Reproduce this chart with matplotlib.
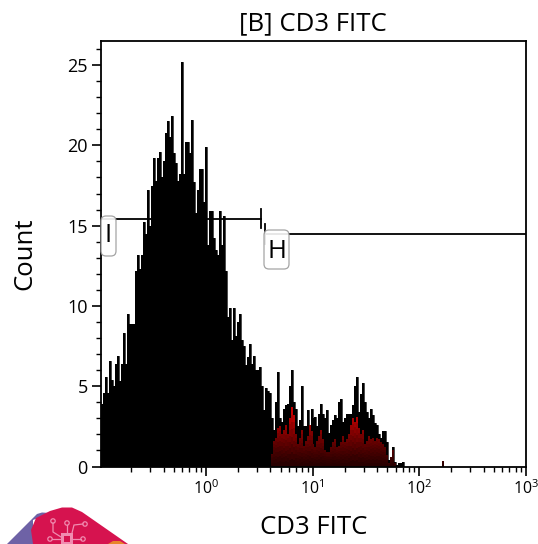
import numpy as np
import matplotlib
matplotlib.use("Agg")
import matplotlib.pyplot as plt
from matplotlib.patches import FancyBboxPatch, Polygon, Circle
from matplotlib.lines import Line2D
from matplotlib.ticker import FixedLocator, FixedFormatter, NullFormatter

plt.rcParams['font.family'] = ['Open Sans', 'DejaVu Sans']
plt.rcParams['mathtext.fontset'] = 'custom'
plt.rcParams['mathtext.rm'] = 'Open Sans'

W, H = 538, 544
title = "[B] CD3 FITC"
xlabel = "CD3 FITC"
ylabel = "Count"
y_major = [0, 5, 10, 15, 20, 25]
x_major = [1, 10, 100, 1000]
x_labels = ["$\\mathrm{10^{0}}$", "$\\mathrm{10^{1}}$", "$\\mathrm{10^{2}}$", "$\\mathrm{10^{3}}$"]

# all events: counts per histogram channel, low to high intensity
all_counts = [
3.9,4.6,5.6,4.6,6.6,5.4,5.0,6.4,6.9,5.3,6.4,8.3,6.4,9.5,8.9,8.9,8.9,12.2,13.2,12.3,
13.2,15.2,14.5,17.2,15.0,17.5,19.2,17.8,19.2,19.6,18.0,19.0,20.8,21.5,20.5,21.8,19.5,18.9,17.8,18.2,
25.2,18.2,20.2,20.2,19.5,21.6,17.7,15.8,17.2,18.5,18.5,16.5,19.9,13.8,15.9,15.9,14.2,13.5,13.2,15.9,
13.8,15.6,12.2,9.3,9.9,7.9,9.9,8.1,9.0,9.5,7.9,7.5,6.3,6.8,7.6,6.4,6.9,6.0,6.0,6.2,
5.0,3.5,4.9,4.7,4.6,3.0,2.3,4.0,5.9,3.0,2.8,3.6,3.8,3.9,5.0,6.0,4.0,3.6,2.5,2.9,
5.0,2.5,2.5,3.5,2.6,3.6,3.0,3.1,2.5,3.3,3.9,3.3,3.0,3.5,2.1,2.6,2.9,3.2,3.0,4.0,
4.2,2.8,3.0,3.3,3.3,3.3,3.8,5.0,5.6,3.4,4.5,5.2,4.0,3.4,3.0,3.6,3.2,2.7,2.6,2.0,
1.8,2.2,2.2,1.5,0.4,0.6,1.2,0.3,0.1,0.2,0.2,0.3]

# gated (H) events: channels continue from channel index 85
gated_start = 85
gated_counts = [
0.8,1.6,1.8,2.4,2.5,2.0,2.3,2.6,2.0,3.0,3.7,3.2,2.0,1.4,1.8,2.3,1.3,1.6,1.9,2.6,
2.2,1.4,1.2,1.6,1.9,2.3,1.7,1.0,0.9,0.9,1.2,1.5,1.7,1.2,1.3,1.5,1.9,1.5,1.7,2.0,
2.6,3.0,2.8,3.1,2.4,2.0,2.3,1.4,1.6,1.9,1.7,1.8,1.6,1.8,1.7,1.5,1.4,1.2,0.7,0.2,
0.6,1.0,0.2]
gated_spike_channel = [171]
gated_spike_count = [0.35]

gate_I = (0.104, 3.28, 15.43)
gate_H = (3.6, 1000, 14.48)

ax_l, ax_r, ax_t, ax_b = 101, 526, 41, 466.5
fig = plt.figure(figsize=(W/100, H/100), dpi=100)
ax = fig.add_axes([ax_l/W, 1-ax_b/H, (ax_r-ax_l)/W, (ax_b-ax_t)/H])

log_left, log_right = -0.984, 3.0
n_channels = 213
edges = np.logspace(log_left, log_right, n_channels + 1)

ax.set_xscale('log')
ax.set_xlim(10**log_left, 10**log_right)
ax.set_ylim(0, 26.5)

n = len(all_counts)
ax.stairs(all_counts, edges[:n+1], fill=True, color='black', lw=0, zorder=2)
ax.stairs(all_counts, edges[:n+1], fill=False, color='black', lw=0.5, zorder=2)

g = np.zeros(n_channels)
g[gated_start:gated_start+len(gated_counts)] = gated_counts
g[gated_spike_channel] = gated_spike_count
# each gated column is shaded from dark at the base to brighter at its top
segments = 8
for i in np.where(g > 0)[0]:
    v = g[i]
    t = min(1, v/3.5)
    top_red = 0.22 + 0.62*t**1.5
    for s in range(segments):
        f = (s + 0.5)/segments
        red = 0.15 + (top_red - 0.15)*f**1.3
        ax.bar(edges[i], v/segments, bottom=v*s/segments, width=edges[i+1]-edges[i], align='edge',
               color=(red, 0, 0), lw=0, zorder=3)

# gates
ax.plot([gate_I[0], gate_I[1]], [gate_I[2]]*2, color='black', lw=1.3, zorder=5)
ax.plot([gate_I[1]]*2, [gate_I[2]-0.6, gate_I[2]+0.6], color='black', lw=1.3, zorder=5)
ax.plot([gate_H[0], gate_H[1]], [gate_H[2]]*2, color='black', lw=1.3, zorder=5)
ax.plot([gate_H[0]]*2, [gate_H[2]-0.6, gate_H[2]+0.6], color='black', lw=1.3, zorder=5)

# axes
for s in ax.spines.values():
    s.set_linewidth(1.3)
    s.set_zorder(6)
ax.yaxis.set_major_locator(FixedLocator(y_major))
ax.yaxis.set_minor_locator(FixedLocator([v for v in range(0, 27) if v % 5]))
ax.xaxis.set_major_locator(FixedLocator(x_major))
ax.xaxis.set_major_formatter(FixedFormatter(x_labels))
minors = [m*10.0**d for d in (-1, 0, 1, 2) for m in range(2, 10) if 10.0**log_left <= m*10.0**d]
ax.xaxis.set_minor_locator(FixedLocator(minors))
ax.xaxis.set_minor_formatter(NullFormatter())
ax.tick_params(axis='both', which='major', length=6.5, width=1.2, pad=3)
ax.tick_params(axis='y', which='major', labelsize=13)
ax.tick_params(axis='x', which='major', labelsize=11.5)
ax.tick_params(axis='both', which='minor', length=3.5, width=1.0)

fig.text(313/W, 1-24/H, title, ha='center', va='center', fontsize=18.5)
fig.text(314/W, 1-528/H, xlabel, ha='center', va='center', fontsize=18.5)
fig.text(25/W, 1-254/H, ylabel, ha='center', va='center', rotation=90, fontsize=18.5)

# gate labels
def box(x0, y0, x1, y1):
    p = FancyBboxPatch((x0+4, H-y1+4), x1-x0-8, y1-y0-8, boxstyle="round,pad=4,rounding_size=5",
                       transform=None, fc='white', ec='#9a9a9a', lw=0.9, alpha=0.9, zorder=8)
    fig.add_artist(p)
box(101, 216, 116, 256)
box(264, 230, 289, 269)
fig.text(108/W, 1-236/H, "I", ha='center', va='center', fontsize=18.5, zorder=9)
fig.text(276.5/W, 1-251/H, "H", ha='center', va='center', fontsize=18.5, zorder=9)

# logo decoration, cut by the bottom of the figure
def poly(pts, col):
    a = [(x, H-y) for x, y in pts]
    fig.add_artist(Polygon(a, closed=True, transform=None, fc=col, ec='none'))
poly([(7, 544), (33, 544), (33, 520), (50, 513), (42, 512.5), (37, 514)], '#6e62a6')
poly([(33, 544), (31, 530), (36, 518), (50, 511), (62, 507.5), (72, 507.5), (82, 512), (128, 544)], '#d6134f')
poly([(108, 544), (113, 541), (120, 541), (125, 544)], '#e8842b')
icon = '#f08cb0'
for seg in [[(53, 523), (53, 532), (61, 537)], [(67, 525), (67, 533)], [(72, 533), (74, 525), (83, 524)],
            [(52, 539), (60, 539)], [(73, 539), (81, 539)]]:
    xs, ys = zip(*seg)
    fig.add_artist(Line2D([x/W for x in xs], [1-y/H for y in ys], color=icon, lw=0.9))
for c in [(53, 521), (67, 523), (85, 524), (50, 539), (83, 539)]:
    fig.add_artist(Circle((c[0], H-c[1]), 2.2, transform=None, fc='none', ec=icon, lw=0.9))
poly([(61, 533), (73, 533), (73, 544), (61, 544)], icon)
poly([(64, 536), (70, 536), (70, 542), (64, 542)], '#d6134f')

fig.savefig("out.png", dpi=100)
